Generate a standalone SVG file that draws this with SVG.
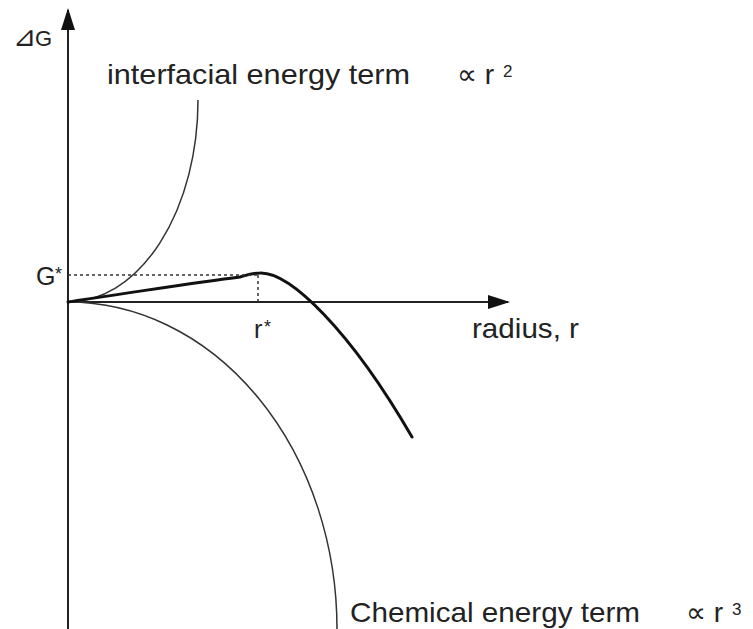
<svg xmlns="http://www.w3.org/2000/svg" width="753" height="629" viewBox="0 0 753 629">
<style>
text{font-family:"Liberation Sans","DejaVu Sans",sans-serif;fill:#222}
.lbl{font-size:28px}
.sup{font-size:17px}
.axis{stroke:#222;stroke-width:2;fill:none}
.thin{stroke:#333;stroke-width:1.5;fill:none}
.bold{stroke:#111;stroke-width:3;fill:none;stroke-linecap:round}
.dash{stroke:#333;stroke-width:1.5;fill:none;stroke-dasharray:3 3}
</style>
<defs>
<marker id="ah" markerWidth="22" markerHeight="14" refX="20" refY="7" orient="auto" markerUnits="userSpaceOnUse">
<path d="M0,0 L22,7 L0,14 Z" fill="#111"/>
</marker>
</defs>
<rect width="753" height="629" fill="#fff"/>
<g id="axes">
<line class="axis" x1="68" y1="629" x2="68" y2="10" marker-end="url(#ah)"/>
<line class="axis" x1="68" y1="302" x2="508" y2="302" marker-end="url(#ah)"/>
</g>
<g id="connectors">
<path id="interfacial" class="thin" d="M68,302 A130,202 0 0 0 198,100"/>
<path id="chemical" class="thin" d="M68,302 A269,327 0 0 1 337,629"/>
<path id="total" class="bold" d="M68,302 C80,300 200,282 240,277 C250,274 254,273 260,273 C290,272 350,330 412,437"/>
<line class="dash" x1="68" y1="275" x2="258" y2="275"/>
<line class="dash" x1="258" y1="275" x2="258" y2="302"/>
</g>
<g id="labels">
<text x="13" y="46" font-size="22"><tspan font-size="28">⊿</tspan><tspan x="35">G</tspan></text>
<text class="lbl" x="107" y="84" textLength="303" lengthAdjust="spacingAndGlyphs">interfacial energy term</text>
<text class="lbl" x="457" y="84">∝ r</text>
<text class="sup" x="503" y="77">2</text>
<text x="36" y="285" font-size="25">G<tspan x="55" y="280" font-size="18">*</tspan></text>
<text x="254" y="338" font-size="25">r<tspan x="264" y="333" font-size="18">*</tspan></text>
<text class="lbl" x="472" y="338" textLength="107" lengthAdjust="spacingAndGlyphs">radius, r</text>
<text class="lbl" x="350" y="622" textLength="290" lengthAdjust="spacingAndGlyphs">Chemical energy term</text>
<text class="lbl" x="686" y="622">∝ r</text>
<text class="sup" x="732" y="615">3</text>
</g>
</svg>
